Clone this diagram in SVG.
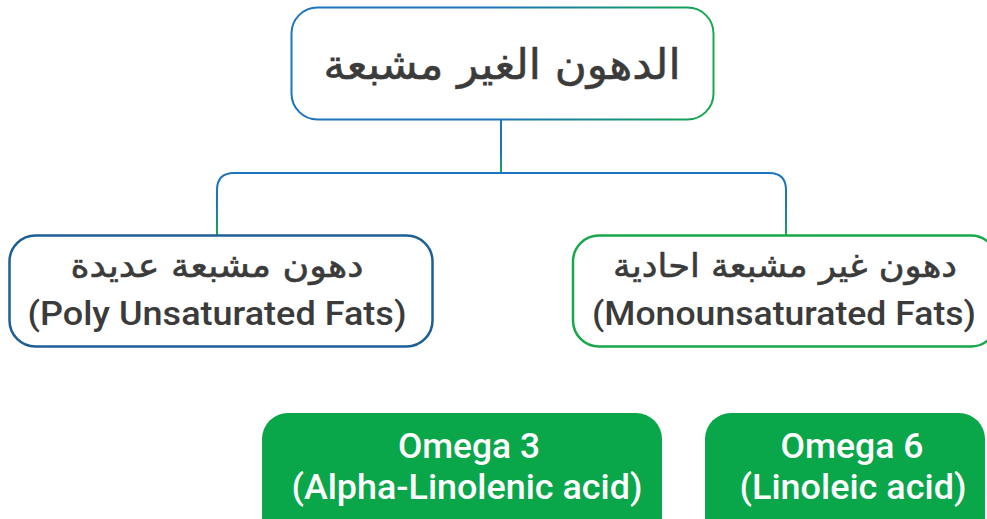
<svg xmlns="http://www.w3.org/2000/svg" width="987" height="519" viewBox="0 0 987 519">
<style>
.ar{font-family:"DejaVu Sans",sans-serif;font-weight:normal;fill:#3b3b3b;text-anchor:middle;stroke:#3b3b3b;stroke-width:0.6}
.la{font-family:Roboto,"Liberation Sans",sans-serif;font-weight:500;fill:#3b3b3b;text-anchor:middle}
.wt{font-family:Roboto,"Liberation Sans",sans-serif;font-weight:500;fill:#ffffff;text-anchor:middle}
.con{fill:none;stroke-width:2}
.om{fill:#0aa64a}
</style>
<defs>
<linearGradient id="gTop" x1="0" y1="0" x2="1" y2="0">
<stop offset="0" stop-color="#1b74bd"/><stop offset="0.5" stop-color="#1b74bd"/><stop offset="1" stop-color="#16a94c"/>
</linearGradient>
<linearGradient id="gV1" gradientUnits="userSpaceOnUse" x1="0" y1="119" x2="0" y2="173">
<stop offset="0" stop-color="#1b74bd"/><stop offset="0.6" stop-color="#1b74bd"/><stop offset="1" stop-color="#16a94c"/>
</linearGradient>
<linearGradient id="gV2" gradientUnits="userSpaceOnUse" x1="0" y1="173" x2="0" y2="235">
<stop offset="0" stop-color="#1b74bd"/><stop offset="0.5" stop-color="#1b74bd"/><stop offset="1" stop-color="#16a94c"/>
</linearGradient>
</defs>
<g id="connectors">
<path class="con" d="M501,119 V173" stroke="url(#gV1)"/>
<path class="con" d="M234,173 H769" stroke="#1b74bd"/>
<path class="con" d="M217,235 V190 Q217,173 234,173" stroke="url(#gV2)"/>
<path class="con" d="M786,235 V190 Q786,173 769,173" stroke="url(#gV2)"/>
</g>
<g id="root">
<rect x="291.5" y="7.5" width="422" height="112" rx="26" fill="#fff" stroke="url(#gTop)" stroke-width="2"/>
<text class="ar" x="502" y="79" font-size="42" textLength="357" lengthAdjust="spacingAndGlyphs">الدهون الغير مشبعة</text>
</g>
<g id="poly">
<rect x="9.5" y="235.5" width="423" height="111" rx="26" fill="#fff" stroke="#1c5f96" stroke-width="2.5"/>
<text class="ar" x="217" y="277" font-size="33" textLength="293" lengthAdjust="spacingAndGlyphs">دهون مشبعة عديدة</text>
<text class="la" x="217" y="325" font-size="34" textLength="379" lengthAdjust="spacingAndGlyphs">(Poly Unsaturated Fats)</text>
</g>
<g id="mono">
<rect x="573" y="235.5" width="424" height="111" rx="26" fill="#fff" stroke="#17a84b" stroke-width="2.5"/>
<text class="ar" x="785" y="277" font-size="33" textLength="344" lengthAdjust="spacingAndGlyphs">دهون غير مشبعة احادية</text>
<text class="la" x="784" y="325" font-size="34" textLength="384" lengthAdjust="spacingAndGlyphs">(Monounsaturated Fats)</text>
</g>
<g id="omega3">
<rect class="om" x="262" y="413" width="400" height="130" rx="26"/>
<text class="wt" x="469" y="458" font-size="35" textLength="142" lengthAdjust="spacingAndGlyphs">Omega 3</text>
<text class="wt" x="467" y="499" font-size="35" textLength="351" lengthAdjust="spacingAndGlyphs">(Alpha-Linolenic acid)</text>
</g>
<g id="omega6">
<rect class="om" x="705" y="413" width="280" height="130" rx="26"/>
<text class="wt" x="852" y="458" font-size="35" textLength="143" lengthAdjust="spacingAndGlyphs">Omega 6</text>
<text class="wt" x="853" y="499" font-size="35" textLength="227" lengthAdjust="spacingAndGlyphs">(Linoleic acid)</text>
</g>
</svg>
